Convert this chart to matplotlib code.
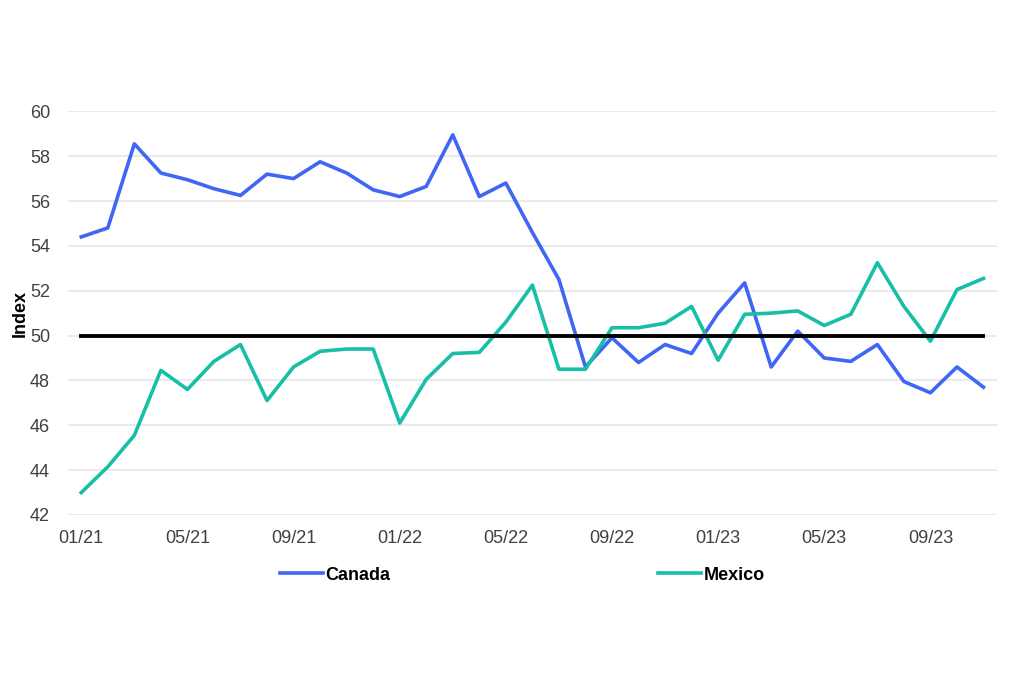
import matplotlib.pyplot as plt

plt.rcParams['font.family'] = ['Liberation Sans', 'DejaVu Sans']

# monthly index values, 01/21 .. 11/23
months = ['01/21', '02/21', '03/21', '04/21', '05/21', '06/21', '07/21', '08/21',
          '09/21', '10/21', '11/21', '12/21', '01/22', '02/22', '03/22', '04/22',
          '05/22', '06/22', '07/22', '08/22', '09/22', '10/22', '11/22', '12/22',
          '01/23', '02/23', '03/23', '04/23', '05/23', '06/23', '07/23', '08/23',
          '09/23', '10/23', '11/23']
canada = [54.4, 54.8, 58.55, 57.25, 56.95, 56.55, 56.25, 57.2, 57.0, 57.75, 57.25,
          56.5, 56.2, 56.65, 58.95, 56.2, 56.8, 54.6, 52.5, 48.6, 49.9, 48.8,
          49.6, 49.2, 51.0, 52.35, 48.6, 50.2, 49.0, 48.85, 49.6, 47.95, 47.45,
          48.6, 47.7]
mexico = [43.0, 44.15, 45.55, 48.45, 47.6, 48.85, 49.6, 47.1, 48.6, 49.3, 49.4,
          49.4, 46.1, 48.05, 49.2, 49.25, 50.6, 52.25, 48.5, 48.5, 50.35, 50.35,
          50.55, 51.3, 48.9, 50.95, 51.0, 51.1, 50.45, 50.95, 53.25, 51.3, 49.75,
          52.05, 52.55]
yticks = [42, 44, 46, 48, 50, 52, 54, 56, 58, 60]

fig = plt.figure(figsize=(10.24, 6.83), dpi=100)
ax = fig.add_axes([0.0664, 0.246, 0.907, 0.591])

x = list(range(len(months)))
ax.plot(x, canada, color='#3F66F5', lw=2.6, label='Canada', zorder=3)
ax.plot(x, mexico, color='#16BFA6', lw=2.6, label='Mexico', zorder=3)
ax.plot([x[0], x[-1]], [50, 50], color='black', lw=2.8, zorder=4)

ax.set_xlim(-0.5, 34.5)
ax.set_ylim(42, 60)
ax.set_yticks(yticks)
ax.set_xticks(x[::4])
ax.set_xticklabels(months[::4])
ax.grid(axis='y', color='#E6E6E6', lw=1.2, zorder=0)
ax.tick_params(length=0, labelsize=13, colors='#404040')
ax.tick_params(axis='y', pad=13)
ax.tick_params(axis='x', pad=11)
for s in ax.spines.values():
    s.set_visible(False)
ax.set_ylabel('Index', fontsize=13, fontweight='bold', labelpad=1)

leg = fig.legend(loc='center', bbox_to_anchor=(0.51, 0.158), ncol=2,
                 frameon=False, columnspacing=14.8, handlelength=2.4,
                 handletextpad=0.15, prop={'weight': 'bold', 'size': 13})

fig.savefig('out.png', dpi=100)
